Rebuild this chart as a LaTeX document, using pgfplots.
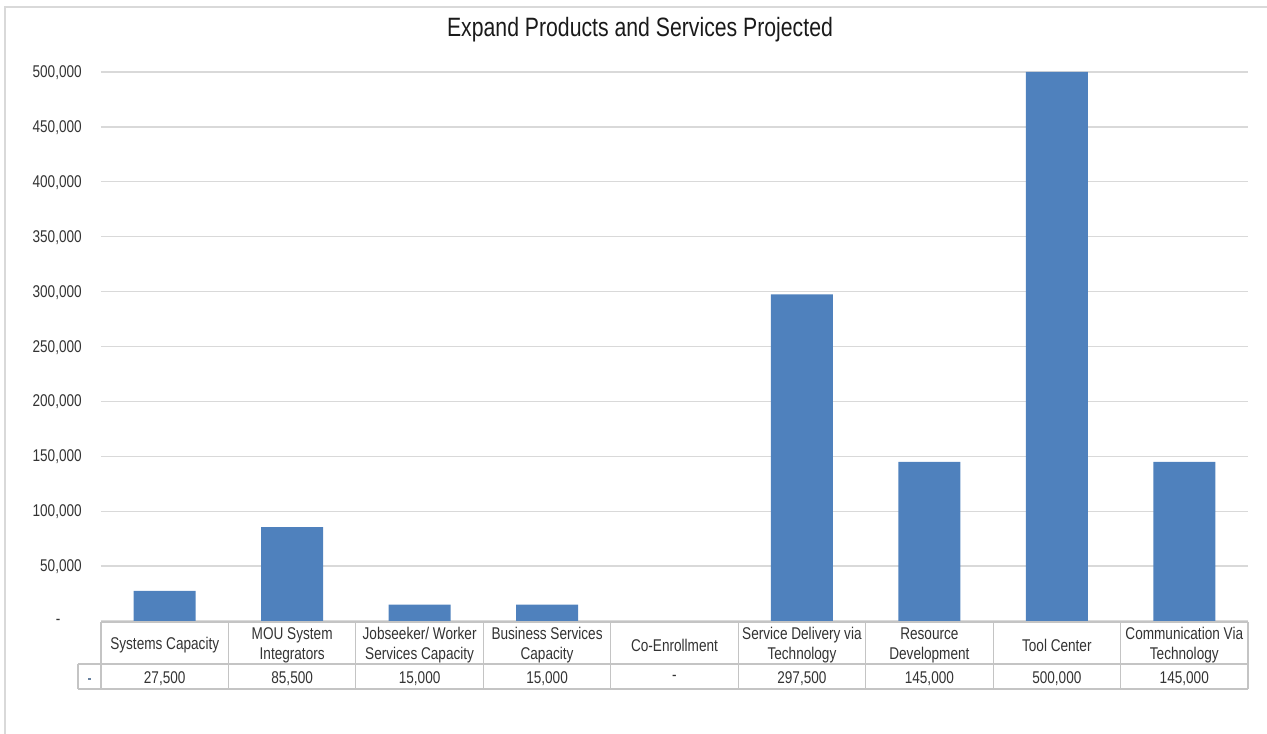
\documentclass[border=0pt]{standalone}
\usepackage{pgfplots}
\pgfplotsset{compat=1.18}
\usepackage{pgfplotstable}
\usepackage{fontspec}
\setmainfont[FakeStretch=0.8]{Liberation Sans}
\definecolor{barblue}{HTML}{4F81BD}
\definecolor{gridgray}{HTML}{D9D9D9}
\definecolor{tablegray}{HTML}{C4C4C4}
\definecolor{txt}{HTML}{333333}
\definecolor{ttl}{HTML}{1A1A1A}

\pgfplotstableread{
x y label
0 27500 27,500
1 85500 85,500
2 15000 15,000
3 15000 15,000
4 0 -
5 297500 297,500
6 145000 145,000
7 500000 500,000
8 145000 145,000
}\data

\newcommand\tfont{\fontsize{12.75pt}{15pt}\selectfont}

\begin{document}
\begin{tikzpicture}
\begin{axis}[
  at={(0,0)}, anchor=south west,
  scale only axis, width=860.25pt, height=411.75pt,
  xmin=-0.5, xmax=8.5, ymin=0, ymax=500000,
  axis line style={draw=none},
  major tick length=0pt,
  tick style={draw=none},
  scaled y ticks=false,
  clip=false,
  ytick={0,50000,100000,150000,200000,250000,300000,350000,400000,450000,500000},
  yticklabels={{-\hspace*{16pt}},{50,000},{100,000},{150,000},{200,000},{250,000},{300,000},{350,000},{400,000},{450,000},{500,000}},
  xtick={0,1,2,3,4,5,6,7,8},
  xticklabels={{Systems Capacity},{MOU System\\Integrators},{Jobseeker/ Worker\\Services Capacity},{Business Services\\Capacity},{Co-Enrollment},{Service Delivery via\\Technology},{Resource\\Development},{Tool Center},{Communication Via\\Technology}},
  ymajorgrids,
  grid style={gridgray, line width=1pt},
  tick label style={font=\tfont, text=txt},
  yticklabel style={inner sep=0pt, xshift=-14.25pt, yshift=-0.5pt},
  xticklabel style={inner sep=0pt, anchor=center, yshift=-18pt, align=center},
]
\addplot[ybar, bar width=46.5pt, fill=barblue, draw=none,
  y filter/.expression={y==0 ? nan : y}] table[x=x,y=y]{\data};
\addplot[draw=none, mark=none, nodes near coords, point meta=explicit symbolic,
  every node near coord/.style={anchor=center, yshift=-43pt, font=\tfont, text=txt, inner sep=0pt}]
  table[x=x, y expr=0, meta=label]{\data};
\end{axis}
\begin{scope}[x=0.75pt, y=-0.75pt, shift={(-101,-621)}]
  \path[use as bounding box] (0,0) rectangle (1267,734);
  \draw[tablegray, line width=0.9pt] (101,622) -- (1248,622);
  \draw[tablegray, line width=0.9pt] (78,664) -- (1248,664);
  \draw[tablegray, line width=0.9pt] (78,689) -- (1248,689);
  \draw[tablegray, line width=0.9pt] (78,664) -- (78,689);
  \foreach \k in {0,...,9} {
    \draw[tablegray, line width=0.9pt] ({101+\k*127.444},622) -- ({101+\k*127.444},689);
  }
  \fill[barblue!50!gray] (88.5,678) rectangle +(2.5,2.5);
  \draw[gridgray, line width=1.5pt] (5,734) -- (5,7) -- (1267,7);
  \node[font=\fontsize{19.9pt}{23pt}\selectfont, text=ttl] at (640,30) {Expand Products and Services Projected};
\end{scope}
\end{tikzpicture}
\end{document}
